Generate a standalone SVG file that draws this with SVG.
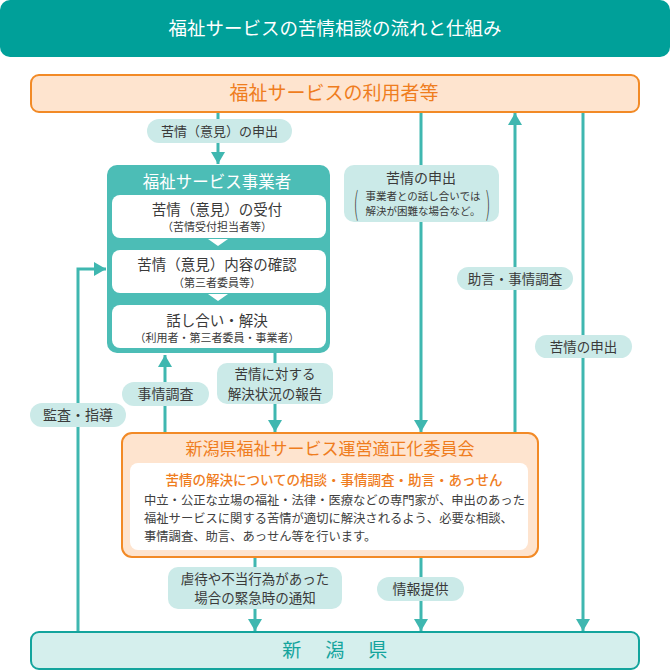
<svg xmlns="http://www.w3.org/2000/svg" width="670" height="671" viewBox="0 0 670 671">
<style>
text{font-family:"Noto Sans CJK JP","Noto Sans",sans-serif;fill:#3a3a3a;text-anchor:middle}
.w{fill:#fff}
.or{fill:#ef7d1e}
.ln{stroke:#3fb7b0;stroke-width:3;fill:none}
.pill{fill:#cbeae8}
.peach{fill:#fee4cf;stroke:#f28a26;stroke-width:2}
.inner{fill:#fff}
.body{text-anchor:start;font-size:12.3px;fill:#404040}
</style>
<defs>
<marker id="ah" viewBox="0 0 12 14" refX="12" refY="7" markerWidth="12" markerHeight="14" markerUnits="userSpaceOnUse" orient="auto">
<path d="M0,0 L12,7 L0,14 z" fill="#3fb7b0"/>
</marker>
</defs>

<g id="title">
<rect x="0" y="0" width="670" height="57" rx="10" fill="#00a099"/>
<text x="335" y="35" class="w" font-size="18.5">福祉サービスの苦情相談の流れと仕組み</text>
</g>

<g id="connectors">
<line class="ln" x1="218" y1="112" x2="218" y2="164" marker-end="url(#ah)"/>
<line class="ln" x1="421" y1="112" x2="421" y2="432" marker-end="url(#ah)"/>
<line class="ln" x1="515" y1="432" x2="515" y2="113" marker-end="url(#ah)"/>
<line class="ln" x1="583" y1="112" x2="583" y2="631" marker-end="url(#ah)"/>
<polyline class="ln" points="78,632 78,269 106,269" marker-end="url(#ah)"/>
<line class="ln" x1="165" y1="432" x2="165" y2="355" marker-end="url(#ah)"/>
<line class="ln" x1="275" y1="352" x2="275" y2="432" marker-end="url(#ah)"/>
<line class="ln" x1="255" y1="557" x2="255" y2="631" marker-end="url(#ah)"/>
<line class="ln" x1="421" y1="557" x2="421" y2="631" marker-end="url(#ah)"/>

<rect class="pill" x="147" y="119" width="145" height="24" rx="12"/>
<text x="219.5" y="136" font-size="13">苦情（意見）の申出</text>

<rect class="pill" x="344" y="165" width="155" height="57" rx="10"/>
<text x="421" y="183" font-size="14">苦情の申出</text>
<text x="423" y="200" font-size="10.5">事業者との話し合いでは</text>
<text x="423" y="215" font-size="10.5">解決が困難な場合など。</text>
<text x="356" y="212" font-size="24" font-weight="300" transform="translate(356 203) scale(0.6 1.3) translate(-356 -203)">(</text>
<text x="488" y="212" font-size="24" font-weight="300" transform="translate(488 203) scale(0.6 1.3) translate(-488 -203)">)</text>

<rect class="pill" x="457" y="267" width="116" height="23" rx="11.5"/>
<text x="515" y="283.5" font-size="13.5">助言・事情調査</text>

<rect class="pill" x="535" y="335" width="97" height="23" rx="11.5"/>
<text x="583.5" y="351.5" font-size="13.5">苦情の申出</text>

<rect class="pill" x="122" y="382" width="87" height="24" rx="12"/>
<text x="165.5" y="399" font-size="14">事情調査</text>

<rect class="pill" x="217" y="363" width="116" height="41" rx="10"/>
<text x="275" y="379" font-size="13.5">苦情に対する</text>
<text x="275" y="398.5" font-size="13.5">解決状況の報告</text>

<rect class="pill" x="30" y="403" width="96" height="24" rx="12"/>
<text x="78" y="420" font-size="14">監査・指導</text>

<rect class="pill" x="168" y="567" width="174" height="42" rx="10"/>
<text x="255" y="583.5" font-size="13.5">虐待や不当行為があった</text>
<text x="255" y="603" font-size="13.5">場合の緊急時の通知</text>

<rect class="pill" x="377" y="577" width="87" height="24" rx="12"/>
<text x="420.5" y="594" font-size="14">情報提供</text>
</g>

<g id="users">
<rect class="peach" x="31" y="75" width="608" height="37" rx="8"/>
<text x="334" y="100" class="or" font-size="19">福祉サービスの利用者等</text>
</g>

<g id="provider">
<rect x="107" y="165" width="223" height="188" rx="10" fill="#4cbdb6"/>
<text x="217" y="188" class="w" font-size="16.5">福祉サービス事業者</text>
<rect class="inner" x="112" y="195" width="214" height="43" rx="8"/>
<text x="217" y="215" font-size="14.5">苦情（意見）の受付</text>
<text x="217" y="231" font-size="11">（苦情受付担当者等）</text>
<polygon points="208,239 228,239 218,246" fill="#fff"/>
<rect class="inner" x="112" y="250" width="214" height="43" rx="8"/>
<text x="217" y="270" font-size="14.5">苦情（意見）内容の確認</text>
<text x="217" y="287" font-size="11">（第三者委員等）</text>
<polygon points="208,294 228,294 218,301" fill="#fff"/>
<rect class="inner" x="112" y="305" width="214" height="43" rx="8"/>
<text x="217" y="326" font-size="14.5">話し合い・解決</text>
<text x="217" y="342" font-size="11">（利用者・第三者委員・事業者）</text>
</g>

<g id="committee">
<rect class="peach" x="122" y="433" width="416" height="124" rx="10"/>
<text x="330" y="455" class="or" font-size="17">新潟県福祉サービス運営適正化委員会</text>
<rect class="inner" x="130" y="463" width="398" height="87" rx="8"/>
<text x="334" y="485" class="or" font-size="13.5" font-weight="500">苦情の解決についての相談・事情調査・助言・あっせん</text>
<text x="144" y="505" class="body">中立・公正な立場の福祉・法律・医療などの専門家が、申出のあった</text>
<text x="144" y="523" class="body">福祉サービスに関する苦情が適切に解決されるよう、必要な相談、</text>
<text x="144" y="541" class="body">事情調査、助言、あっせん等を行います。</text>
</g>

<g id="niigata">
<rect x="31" y="632" width="608" height="37" rx="8" fill="#d5efed" stroke="#14a49d" stroke-width="2"/>
<text x="336" y="657" font-size="19" style="fill:#14a49d" letter-spacing="2.5">新　潟　県</text>
</g>
</svg>
